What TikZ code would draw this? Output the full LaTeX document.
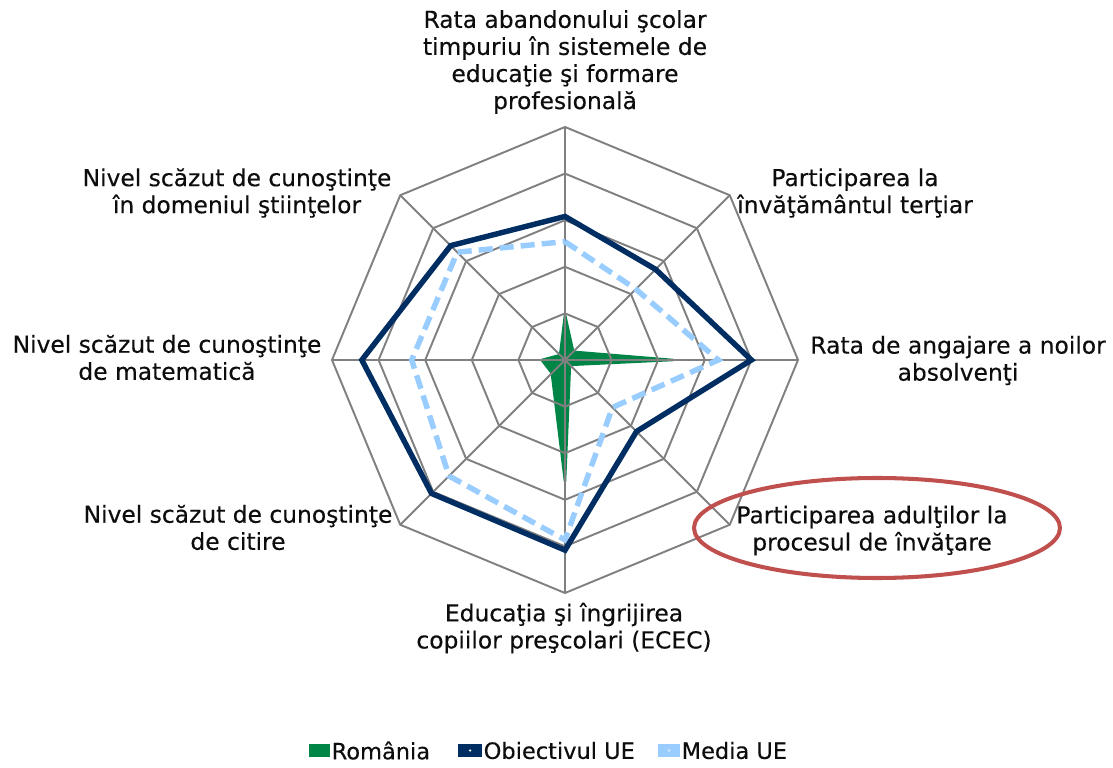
\documentclass[tikz,border=0pt]{standalone}
\usepackage{fontspec}
\setmainfont{DejaVu Sans}
\usetikzlibrary{positioning}
\definecolor{rogreen}{RGB}{0,133,70}
\definecolor{uenavy}{RGB}{0,45,98}
\definecolor{uelight}{RGB}{153,204,255}
\definecolor{gridgray}{RGB}{128,128,128}
\definecolor{ovalred}{RGB}{192,80,77}

\begin{document}
\begin{tikzpicture}[
  axlabel/.style={align=center,font=\fontsize{13.3}{15.4}\selectfont\addfontfeature{FakeBold=0.3},text=black!95,inner sep=0pt},
  webline/.style={gridgray,line width=1.1pt},
  target/.style={uenavy,line width=3.1pt},
  average/.style={uelight,line width=3.1pt,dash pattern=on 8pt off 4pt},
  legbox/.style={minimum height=0.27cm,inner sep=0pt},
  legtext/.style={font=\fontsize{12.8}{15}\selectfont\addfontfeature{FakeBold=0.3},text=black!95,inner sep=0pt}
]
\useasboundingbox (0,0) rectangle (22.26,15.36);

\begin{scope}[shift={(11.3,8.16)},scale=0.932]
% Romania
\filldraw[rogreen,line width=1.4pt,line join=round] (90:0.97) -- (45:0.25) -- (0:2.32) -- (-45:0.15) -- (-90:2.61) -- (-135:0.4) -- (180:0.5) -- (135:0.15) -- cycle;

\draw[webline] (90:1) -- (45:1) -- (0:1) -- (-45:1) -- (-90:1) -- (-135:1) -- (180:1) -- (135:1) -- cycle;
\draw[webline] (90:2) -- (45:2) -- (0:2) -- (-45:2) -- (-90:2) -- (-135:2) -- (180:2) -- (135:2) -- cycle;
\draw[webline] (90:3) -- (45:3) -- (0:3) -- (-45:3) -- (-90:3) -- (-135:3) -- (180:3) -- (135:3) -- cycle;
\draw[webline] (90:4) -- (45:4) -- (0:4) -- (-45:4) -- (-90:4) -- (-135:4) -- (180:4) -- (135:4) -- cycle;
\draw[webline] (90:5) -- (45:5) -- (0:5) -- (-45:5) -- (-90:5) -- (-135:5) -- (180:5) -- (135:5) -- cycle; %outer
\draw[webline] (90:5) -- (-90:5);
\draw[webline] (0:5) -- (180:5);
\draw[webline] (45:5) -- (-135:5);
\draw[webline] (135:5) -- (-45:5);
\fill[gridgray] (0,0) circle (0.08);

% Media UE
\draw[average] (90:2.54) -- (45:2.15) -- (0:3.29) -- (-45:1.44) -- (-90:3.86) -- (-135:3.52) -- (180:3.29) -- (135:3.27) -- cycle;
% Obiectivul UE
\draw[target] (90:3.08) -- (45:2.75) -- (0:4.0) -- (-45:2.17) -- (-90:4.08) -- (-135:4.05) -- (180:4.36) -- (135:3.47) -- cycle;
\end{scope}

\node[axlabel] (abandon) at (11.3,14.12) {Rata abandonului şcolar\\timpuriu în sistemele de\\educaţie şi formare\\profesională};
\node[axlabel] (tertiar) at (17.1,11.5) {Participarea la\\învăţământul terţiar};
\node[axlabel] (angajare) at (19.16,8.15) {Rata de angajare a noilor\\absolvenţi};
\node[axlabel] (adulti) at (17.44,4.75) {Participarea adulţilor la\\procesul de învăţare};
\node[axlabel] (ecec) at (11.28,2.8) {Educaţia şi îngrijirea\\copiilor preşcolari (ECEC)};
\node[axlabel] (citire) at (4.76,4.81) {Nivel scăzut de cunoştinţe\\de citire};
\node[axlabel] (matematica) at (3.34,8.21) {Nivel scăzut de cunoştinţe\\de matematică};
\node[axlabel] (stiinte) at (4.74,11.5) {Nivel scăzut de cunoştinţe\\în domeniul ştiinţelor};

\draw[ovalred,line width=2.3pt] (17.54,4.8) ellipse (3.66 and 1.0); %highlight

% legend
\node[legbox,fill=rogreen,minimum width=0.42cm] (legro) at (6.39,0.35) {};
\node[legtext,right=0.02 of legro] (legrotext) {România};
\node[legbox,fill=uenavy,minimum width=0.48cm] (legobj) at (9.40,0.35) {};
\fill[white] (legobj.center) circle (0.025);
\node[legtext,right=0.02 of legobj] (legobjtext) {Obiectivul UE};
\node[legbox,fill=uelight,minimum width=0.44cm] (legmed) at (13.38,0.35) {};
\fill[white!55!uelight] (legmed.center) circle (0.03);
\node[legtext,right=0.02 of legmed] (legmedtext) {Media UE};

\end{tikzpicture}
\end{document}
